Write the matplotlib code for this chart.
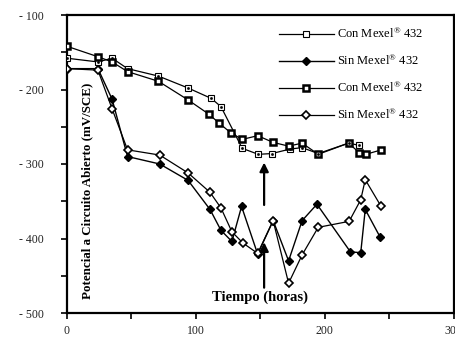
import matplotlib
matplotlib.use("Agg")
import matplotlib.pyplot as plt
from matplotlib.ticker import MultipleLocator, FixedLocator

plt.rcParams['font.family'] = ['Liberation Serif', 'DejaVu Serif']
plt.rcParams['mathtext.fontset'] = 'custom'
plt.rcParams['mathtext.rm'] = 'Liberation Serif'
plt.rcParams['mathtext.it'] = 'Liberation Serif:italic'
plt.rcParams['mathtext.bf'] = 'Liberation Serif:bold'

# --- data (hours, mV/SCE) ---
t_con1 = [0, 24, 35, 47, 71, 94, 112, 119.5, 136, 148.5, 159, 173, 182.5, 195, 218.5, 227]
v_con1 = [-158, -163, -158, -172, -182, -198, -212, -223, -279, -287, -286, -280, -278, -286, -272, -275]

t_sin1 = [0, 24, 35, 47, 72, 94, 111, 119.5, 128, 135.5, 148, 160, 172, 182.5, 194, 220, 228, 231.5, 243]
v_sin1 = [-172, -172, -213, -290, -300, -322, -361, -389, -404, -357, -421, -376, -430, -376, -354, -418, -419, -361, -398]

t_con2 = [0, 24, 35, 47, 71, 94, 110, 118, 127, 136, 148, 160, 172, 182.5, 195, 218.5, 227, 232, 244]
v_con2 = [-142, -156, -163, -176, -189, -214, -233, -245, -258, -267, -262, -271, -276, -272, -287, -272, -285, -287, -281]

t_sin2 = [0, 24, 35, 47, 72, 94, 111, 119.5, 128, 136.5, 148, 160, 172, 182.5, 195, 219, 228, 231.5, 243.5]
v_sin2 = [-172, -174, -226, -281, -288, -312, -338, -359, -391, -406, -420, -376, -460, -422, -385, -377, -348, -321, -356]

labels = [r"Con Mexel$^{\mathrm{®}}$ 432", r"Sin Mexel$^{\mathrm{®}}$ 432",
          r"Con Mexel$^{\mathrm{®}}$ 432", r"Sin Mexel$^{\mathrm{®}}$ 432"]
arrow_t = 153
arrows = [(-355, -298), (-466, -405)]

W, H = 455, 338
fig = plt.figure(figsize=(W / 100, H / 100), dpi=100)
ax = fig.add_axes([67 / W, 1 - 313 / H, 386.5 / W, 298 / H])

l1, = ax.plot(t_con1, v_con1, color='k', lw=0.9, marker='s', ms=4.5, mfc='white', mec='k', mew=0.8, zorder=3)
ax.plot(t_con1, v_con1, ls='none', marker='s', ms=0.9, color='k', zorder=4)
l2, = ax.plot(t_sin1, v_sin1, color='k', lw=1.0, marker='D', ms=3.7, mfc='k', mec='k', zorder=3)
l3, = ax.plot(t_con2, v_con2, color='k', lw=0.9, marker='s', ms=4.5, mfc='white', mec='k', mew=1.8, zorder=3)
l4, = ax.plot(t_sin2, v_sin2, color='k', lw=0.9, marker='D', ms=3.6, mfc='white', mec='k', mew=1.2, zorder=3)

ax.set_xlim(0, 300)
ax.set_ylim(-500, -100)

ax.xaxis.set_major_locator(FixedLocator([0, 100, 200, 300]))
ax.xaxis.set_minor_locator(MultipleLocator(50))
ax.yaxis.set_major_locator(MultipleLocator(100))
ax.yaxis.set_minor_locator(MultipleLocator(50))
ax.set_yticklabels([f"- {abs(int(v))}" for v in ax.get_yticks()])
ax.tick_params(which='both', direction='out', length=4, width=1.2, colors='k')
ax.tick_params(axis='y', which='major', pad=13, labelsize=8.5, labelcolor='#222222')
ax.tick_params(axis='x', which='major', pad=5, labelsize=8.5, labelcolor='#222222')
ax.tick_params(top=False, right=False)

for s in ax.spines.values():
    s.set_linewidth(1.6)

ax.text(0.052, 0.41, "Potencial a Circuito Abierto (mV/SCE)", transform=ax.transAxes,
        rotation=90, ha='center', va='center', fontsize=9.4, fontweight='bold')
ax.text(0.50, 0.053, "Tiempo (horas)", transform=ax.transAxes,
        ha='center', va='center', fontsize=10.5, fontweight='bold')

for (y0, y1) in arrows:
    ax.annotate("", xy=(arrow_t, y1), xytext=(arrow_t, y0),
                arrowprops=dict(arrowstyle='-|>', color='k', lw=1.6, mutation_scale=13,
                                shrinkA=0, shrinkB=0))

leg = ax.legend([l1, l2, l3, l4], labels, loc='upper left', bbox_to_anchor=(0.535, 0.978),
                frameon=False, fontsize=9, handlelength=4.4, handletextpad=0.25,
                labelspacing=1.0, borderaxespad=0)

fig.savefig("out.png", dpi=100)
